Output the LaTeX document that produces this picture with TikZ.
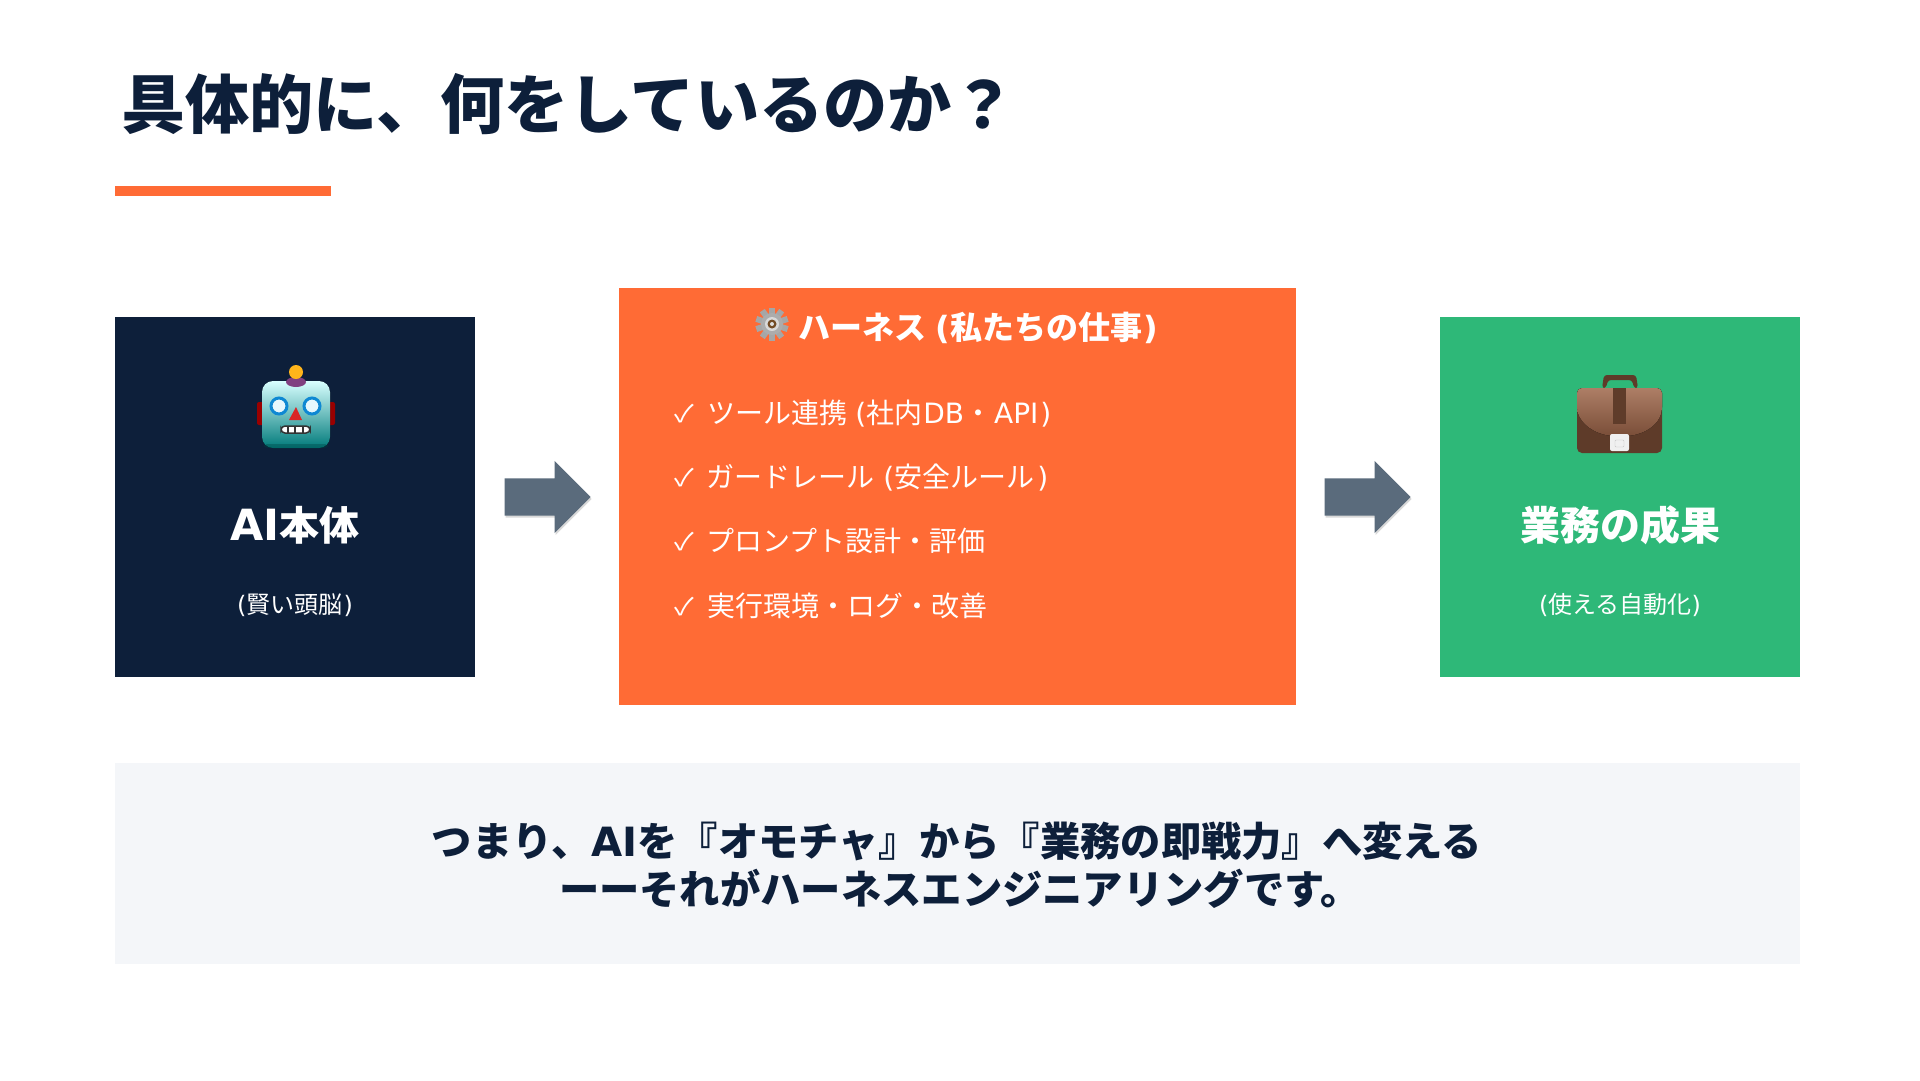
\documentclass[tikz,border=0pt]{standalone}
\usepackage{fontspec}
\setmainfont{Noto Sans CJK JP}
\newfontfamily\lat{DejaVu Sans}
\usetikzlibrary{shapes.arrows,shadows}
\definecolor{navy}{HTML}{0D1F3A}
\definecolor{orange}{HTML}{FF6B35}
\definecolor{green}{HTML}{2EB878}
\definecolor{pale}{HTML}{F4F6F9}
\definecolor{slate}{HTML}{5A6B7C}
\definecolor{flaptop}{HTML}{AD7E66}
\definecolor{flapbot}{HTML}{7A4E38}
\definecolor{casebody}{HTML}{5E3B29}
\definecolor{strap}{HTML}{5F3C2A}
\newcommand{\fs}[1]{\fontsize{#1}{#1}\selectfont}
\tikzset{
  x=1pt,y=-1pt,
  panel/.style={rectangle,draw=none,inner sep=0pt,anchor=north west},
  txt/.style={inner sep=0pt,anchor=base,text=white},
  item/.style={inner sep=0pt,anchor=base west,text=white,font=\fs{28}},
  tick/.style={inner sep=0pt,anchor=base west,text=white,font=\fs{24},xscale=1.2},
  flow/.style={single arrow,draw=none,fill=slate,inner xsep=0pt,inner ysep=18.5pt,minimum width=72pt,minimum height=86pt,single arrow head extend=17.5pt,single arrow head indent=0pt,single arrow tip angle=90,shape border rotate=0,anchor=tip,drop shadow={opacity=.3,shadow xshift=1pt,shadow yshift=-2pt}},
}
\begin{document}
\begin{tikzpicture}
\useasboundingbox (0,0) rectangle (1920,1080);
\fill[white] (0,0) rectangle (1920,1080);
% title
\node[inner sep=0pt,anchor=base west,text=navy,font=\fs{64.2}\bfseries] (title) at (121,128) {具体的に、何をしているのか？};
\node[panel,fill=orange,minimum width=216pt,minimum height=10pt] (rule) at (115,186) {};
% panels
\node[panel,fill=navy,minimum width=360pt,minimum height=360pt] (ai) at (115,317) {};
\node[panel,fill=orange,minimum width=677pt,minimum height=417pt] (harness) at (619,288) {};
\node[panel,fill=green,minimum width=360pt,minimum height=360pt] (result) at (1440,317) {};
\node[panel,fill=pale,minimum width=1685pt,minimum height=201pt] (note) at (115,763) {};
% arrows
\node[flow] (a1) at (591,497) {};
\node[flow] (a2) at (1411,497) {};
% left
\node[txt,font=\fs{40}\bfseries] (t1) at (295,540) {{\lat\fs{43}AI}本体};
\node[txt,font=\fs{24}] (s1) at (295,613) {{\lat(}賢い頭脳{\lat\hspace{1pt})}};
% robot
\fill[red!60!black,rounded corners=2pt] (257,402) rectangle (265,425);
\fill[red!60!black,rounded corners=2pt] (327,402) rectangle (335,425);
\fill[top color=cyan!15!white,bottom color=teal!70!black!80!cyan,rounded corners=11pt] (262,381) rectangle (330,448);
\fill[black!50!teal,opacity=.35,rounded corners=3pt] (264,444) rectangle (328,448);
\fill[violet!50!gray] (296,382) ellipse (10 and 5);
\fill[orange!50!yellow] (296,372) circle (7);
\foreach \cx in {279,312}{
  \fill[white!90!cyan,draw=cyan!70!blue,line width=3pt] (\cx,406) circle (8);
}
\fill[red!70!gray] (296,407) -- (289,420) -- (302,420) -- cycle;
\fill[white,draw=black!80,line width=1.5pt,rounded corners=4pt] (281,426) rectangle (310,433);
\foreach \mx in {288,295,303}{\draw[black!80,line width=1.3pt] (\mx,426) -- (\mx,433);}
% centre header
\begin{scope}[shift={(772,324)}]
  \foreach \r in {0,36,...,324}{
    \fill[gray!70,rotate=\r] (-3,-16.5) rectangle (3,-8);
  }
  \fill[gray!65] (0,0) circle (11);
  \fill[gray!30] (0,0) circle (7);
  \fill[brown!60!black] (0,0) circle (4.5);
  \fill[gray!25] (0,0) circle (2);
\end{scope}
\node[inner sep=0pt,anchor=base west,text=white,font=\fs{32}\bfseries] (head) at (798,339) {ハーネス {\lat\hspace{2pt}(}私たちの仕事{\lat\hspace{1pt})}};
% list
\node[tick] (m1) at (674,422) {✓};
\node[item] (i1) at (707,423) {ツール連携 {\lat\hspace{2pt}(}社内{\lat\hspace{1pt}DB}・{\lat\hspace{2pt}API\hspace{2pt})}};
\node[tick] (m2) at (674,486) {✓};
\node[item] (i2) at (706,487) {ガードレール \hspace{3pt}{\lat(}安全ルール{\lat\hspace{3pt})}};
\node[tick] (m3) at (674,550) {✓};
\node[item] (i3) at (706,551) {プロンプト設計・評価};
\node[tick] (m4) at (674,615) {✓};
\node[item] (i4) at (707,616) {実行環境・ログ・改善};
% right
\node[txt,font=\fs{40}\bfseries] (t3) at (1620,540) {業務の成果};
\node[txt,font=\fs{24}] (s3) at (1620,613) {{\lat(}使える自動化{\lat)}};
% briefcase
\fill[casebody,rounded corners=3pt] (1602,388) -- (1604,375) -- (1636,375) -- (1638,388) -- (1634,388) -- (1632,380) -- (1608,380) -- (1606,388) -- cycle;
\fill[casebody,rounded corners=5pt] (1577,388) rectangle (1662,453);
\fill[top color=flaptop,bottom color=flapbot,rounded corners=5pt] (1577,388) -- (1662,388) -- (1662,412) .. controls (1655,428) and (1640,436) .. (1620,436) .. controls (1600,436) and (1585,428) .. (1577,412) -- cycle;
\fill[strap] (1613,388) rectangle (1626,424);
\fill[gray!12,rounded corners=2pt] (1610,434) rectangle (1629,451);
\draw[gray!45,rounded corners=1pt] (1615,440) rectangle (1624,447);
% bottom
\node[inner sep=0pt,anchor=base,text=navy,font=\fs{40.3}\bfseries] (n1) at (957,856) {つまり、{\lat AI}を『オモチャ』から『業務の即戦力』へ変える};
\node[inner sep=0pt,anchor=base,text=navy,font=\fs{40.3}\bfseries] (n2) at (960,904) {ーーそれがハーネスエンジニアリングです。};
\end{tikzpicture}
\end{document}
